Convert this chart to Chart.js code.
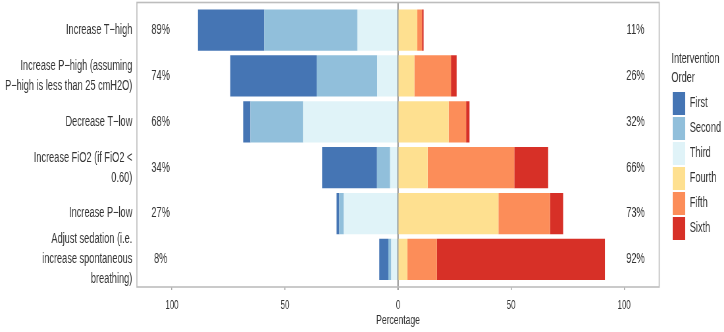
<!DOCTYPE html>
<html>
<head>
<meta charset="utf-8">
<script src="https://cdn.jsdelivr.net/npm/chart.js@4"></script>
<style>
  html, body { margin: 0; padding: 0; background: #fff; overflow: hidden; }
  /* the reference is squeezed sideways, so draw wide and scale down */
  #wrap { width: 1100px; height: 332px; transform: scaleX(0.6582); transform-origin: 0 0; }
</style>
</head>
<body>
<div id="wrap"><canvas id="chart"></canvas></div>
<script>
const rowLabels = [
  "Increase T\u2212high",
  ["Increase P\u2212high (assuming", "P\u2212high is less than 25 cmH2O)"],
  "Decrease T\u2212low",
  ["Increase FiO2 (if FiO2 <", "0.60)"],
  "Increase P\u2212low",
  ["Adjust sedation (i.e.", "increase spontaneous", "breathing)"]
];

// percentage of respondents per intervention order, same row order as above
const first  = [29.3, 38.2, 3.2, 24.3, 1.2, 4.0];
const second = [41.2, 26.8, 23.3, 5.8, 2.0, 1.3];
const third  = [18.0, 9.2, 42.0, 3.5, 24.0, 3.0];
const fourth = [8.5, 7.2, 22.4, 13.1, 44.4, 4.1];
const fifth  = [2.1, 16.2, 7.7, 38.3, 22.8, 13.1];
const sixth  = [0.7, 2.5, 1.5, 15.0, 5.8, 74.3];

const leftPct  = ["89%", "74%", "68%", "34%", "27%", "8%"];
const rightPct = ["11%", "26%", "32%", "66%", "73%", "92%"];

const orderNames = ["First", "Second", "Third", "Fourth", "Fifth", "Sixth"];
const xTicks = [-100, -50, 0, 50, 100];

const colors = {
  First: "#4575b4",
  Second: "#91bfdb",
  Third: "#e0f3f8",
  Fourth: "#fee090",
  Fifth: "#fc8d59",
  Sixth: "#d73027"
};

const FONT = "'Liberation Sans', Arial, sans-serif";

function toPoints(values, sign) {
  return values.map((v, i) => ({ x: sign * v, y: i }));
}

// stacking goes outward from zero in dataset order
const datasets = [
  { label: "Third", data: toPoints(third, -1) },
  { label: "Second", data: toPoints(second, -1) },
  { label: "First", data: toPoints(first, -1) },
  { label: "Fourth", data: toPoints(fourth, 1) },
  { label: "Fifth", data: toPoints(fifth, 1) },
  { label: "Sixth", data: toPoints(sixth, 1) }
].map(d => ({
  ...d,
  backgroundColor: colors[d.label],
  borderWidth: 0,
  categoryPercentage: 1,
  barPercentage: 0.9
}));

const panelPlugin = {
  id: "panel",
  afterDatasetsDraw(chart) {
    const { ctx, chartArea: a, scales } = chart;
    ctx.save();
    ctx.strokeStyle = "#bdbdbd";
    ctx.lineWidth = 1.6;
    ctx.strokeRect(a.left, a.top, a.right - a.left, a.bottom - a.top);

    ctx.fillStyle = "#333";
    ctx.font = "14px " + FONT;
    ctx.textAlign = "center";
    ctx.textBaseline = "middle";
    rowLabels.forEach((_, i) => {
      const y = scales.y.getPixelForValue(i);
      ctx.fillText(leftPct[i], scales.x.getPixelForValue(-105), y);
      ctx.fillText(rightPct[i], scales.x.getPixelForValue(105), y);
    });
    ctx.restore();
  }
};

new Chart(document.getElementById("chart"), {
  type: "bar",
  data: { datasets: datasets },
  plugins: [panelPlugin],
  options: {
    indexAxis: "y",
    responsive: true,
    maintainAspectRatio: false,
    animation: false,
    layout: { padding: { top: 2.5, right: 0, bottom: 0, left: 0 } },
    plugins: {
      tooltip: { enabled: false },
      legend: {
        position: "right",
        align: "center",
        fullSize: false,
        maxWidth: 80,
        labels: {
          boxWidth: 19,
          boxHeight: 23,
          padding: 2,
          color: "#333",
          font: { family: FONT, size: 14 },
          sort: (a, b) => orderNames.indexOf(a.text) - orderNames.indexOf(b.text)
        },
        title: {
          display: true,
          text: ["Intervention", "Order"],
          position: "start",
          color: "#333",
          padding: { top: 5, bottom: 18.5 },
          font: { family: FONT, size: 14, lineHeight: 19 / 14 }
        }
      }
    },
    scales: {
      x: {
        type: "linear",
        stacked: true,
        offset: false,
        min: -115.5,
        max: 115.5,
        afterBuildTicks: s => { s.ticks = xTicks.map(v => ({ value: v })); },
        afterFit: s => { s.paddingLeft = 0; s.paddingRight = 0; s.height = 45; },
        border: { display: false },
        grid: {
          offset: false,
          drawOnChartArea: true,
          color: c => (c.tick && c.tick.value === 0 ? "#555" : "rgba(0,0,0,0)"),
          lineWidth: 1.5,
          tickLength: 3,
          tickColor: c => (c.tick && c.tick.value === 0 ? "#555" : "#aaa")
        },
        ticks: {
          padding: 8,
          color: "#333",
          font: { family: FONT, size: 12 },
          callback: v => Math.abs(v)
        },
        title: {
          display: true,
          text: "Percentage",
          color: "#333",
          padding: { top: 0, bottom: 4 },
          font: { family: FONT, size: 13 }
        }
      },
      y: {
        type: "linear",
        stacked: true,
        reverse: true,
        offset: false,
        min: -0.6,
        max: 5.6,
        afterBuildTicks: s => { s.ticks = rowLabels.map((_, i) => ({ value: i })); },
        afterFit: s => { s.width = 208; s.paddingTop = 0; s.paddingBottom = 0; },
        border: { display: false },
        grid: { display: false, offset: false, tickLength: 0 },
        ticks: {
          autoSkip: false,
          padding: 7,
          color: "#333",
          font: { family: FONT, size: 14, lineHeight: 20 / 14 },
          callback: v => rowLabels[v]
        }
      },
      yGap: {
        type: "linear",
        position: "right",
        display: true,
        border: { display: false },
        grid: { display: false, tickLength: 0 },
        ticks: { display: false },
        afterFit: s => { s.width = 18.5; s.paddingTop = 0; s.paddingBottom = 0; }
      }
    }
  }
});
</script>
</body>
</html>
